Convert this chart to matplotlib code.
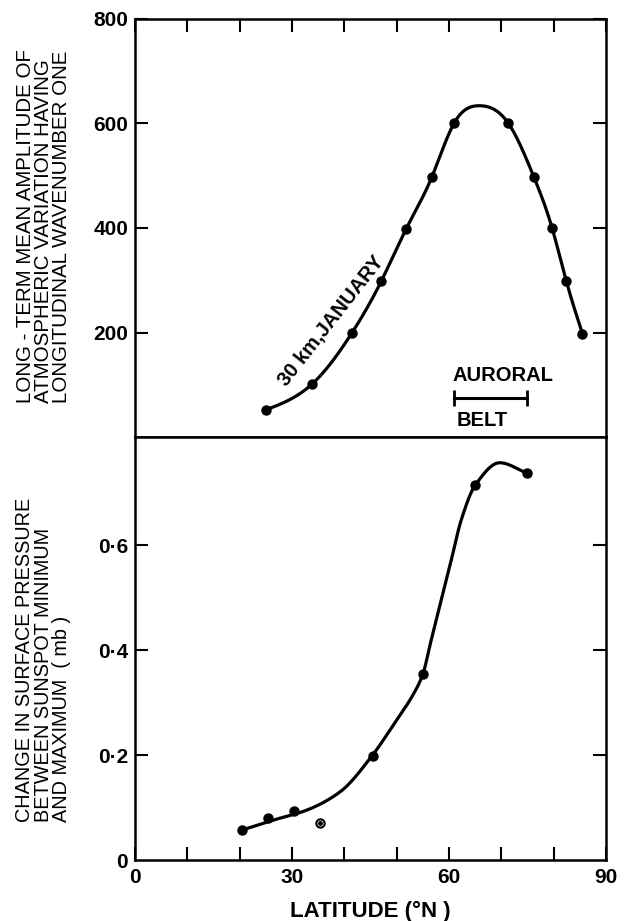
import numpy as np
import matplotlib
matplotlib.use("Agg")
import matplotlib.pyplot as plt
from matplotlib.ticker import FixedLocator

plt.rcParams['font.family'] = ['Liberation Sans', 'DejaVu Sans']

# Upper panel: 30 km January amplitude of wavenumber one
amp_lat = [25.0, 33.8, 41.5, 47.1, 51.8, 56.7, 61.0, 71.3, 76.2, 79.7, 82.4, 85.5]
amp_val = [52, 101, 200, 299, 398, 497, 601, 601, 498, 400, 299, 198]

# Smooth curve knots for the upper panel (points plus the crest)
amp_fit_lat = [25.0, 33.8, 41.5, 47.1, 51.8, 56.7, 61.0, 65.8, 71.3, 76.2, 79.7, 82.4, 85.5]
amp_fit_val = [52, 101, 200, 299, 398, 497, 601, 634, 601, 498, 400, 299, 198]

# Auroral belt extent (deg N)
belt_lat = [61.0, 74.9]
belt_level = 75

# Lower panel: surface pressure change between sunspot min and max
dp_lat = [20.4, 25.4, 30.3, 45.4, 55.0, 64.9, 74.9]
dp_val = [0.057, 0.081, 0.093, 0.199, 0.354, 0.714, 0.737]
dp_odd_lat = [35.4]
dp_odd_val = [0.071]

# Hand-fitted smooth curve through the lower-panel points
fit_lat = [20.4, 26.4, 32.8, 39.2, 45.4, 50.0, 52.9, 55.0, 56.5, 58.0, 60.2, 62.4, 65.0, 69.7, 74.9]
fit_val = [0.057, 0.076, 0.095, 0.130, 0.200, 0.267, 0.311, 0.354, 0.415, 0.475,
           0.562, 0.650, 0.714, 0.757, 0.737]

x_ticks = list(range(0, 91, 10))
x_labels = ['0', '', '', '30', '', '', '60', '', '', '90']
amp_ticks = [200, 400, 600, 800]
amp_labels = ['200', '400', '600', '800']
dp_ticks = [0, 0.2, 0.4, 0.6]
dp_labels = ['0', '0\u00b72', '0\u00b74', '0\u00b76']


def natural_spline(x, y, xs):
    x = np.asarray(x, float)
    y = np.asarray(y, float)
    n = len(x)
    h = np.diff(x)
    A = np.zeros((n, n))
    r = np.zeros(n)
    A[0, 0] = A[-1, -1] = 1.0
    for i in range(1, n - 1):
        A[i, i - 1] = h[i - 1]
        A[i, i] = 2 * (h[i - 1] + h[i])
        A[i, i + 1] = h[i]
        r[i] = 6 * ((y[i + 1] - y[i]) / h[i] - (y[i] - y[i - 1]) / h[i - 1])
    M = np.linalg.solve(A, r)
    idx = np.clip(np.searchsorted(x, xs) - 1, 0, n - 2)
    x0, x1 = x[idx], x[idx + 1]
    y0, y1 = y[idx], y[idx + 1]
    m0, m1 = M[idx], M[idx + 1]
    hh = x1 - x0
    a = (x1 - xs) / hh
    b = (xs - x0) / hh
    return a * y0 + b * y1 + ((a ** 3 - a) * m0 + (b ** 3 - b) * m1) * hh ** 2 / 6


def pchip(x, y, xs):
    x = np.asarray(x, float)
    y = np.asarray(y, float)
    h = np.diff(x)
    d = np.diff(y) / h
    n = len(x)
    m = np.zeros(n)
    for k in range(1, n - 1):
        if d[k - 1] * d[k] > 0:
            w1 = 2 * h[k] + h[k - 1]
            w2 = h[k] + 2 * h[k - 1]
            m[k] = (w1 + w2) / (w1 / d[k - 1] + w2 / d[k])
    m[0] = d[0]
    m[-1] = d[-1]
    idx = np.clip(np.searchsorted(x, xs) - 1, 0, n - 2)
    hh = h[idx]
    t = (xs - x[idx]) / hh
    h00 = 2 * t ** 3 - 3 * t ** 2 + 1
    h10 = t ** 3 - 2 * t ** 2 + t
    h01 = -2 * t ** 3 + 3 * t ** 2
    h11 = t ** 3 - t ** 2
    return h00 * y[idx] + h10 * hh * m[idx] + h01 * y[idx + 1] + h11 * hh * m[idx + 1]


fig = plt.figure(figsize=(6.25, 9.21), dpi=100)
L, W = 0.216, 0.7536
ax1 = fig.add_axes([L, 0.5255, W, 0.4539])
ax2 = fig.add_axes([L, 0.0662, W, 0.4593])

LW = 2.3
for ax in (ax1, ax2):
    for s in ax.spines.values():
        s.set_linewidth(1.8)
    ax.set_xlim(0, 90)
    ax.tick_params(direction='in', length=9.5, width=1.5, labelsize=15, pad=5)

tick_font = dict(family='Liberation Sans', weight='bold', size=15)
narrow = ['Liberation Sans Narrow', 'Liberation Sans']

# ---- upper panel ----
ax1.set_ylim(0, 800)
ax1.xaxis.set_major_locator(FixedLocator(x_ticks))
ax1.tick_params(axis='x', bottom=False, top=True, labelbottom=False)
ax1.yaxis.set_major_locator(FixedLocator(amp_ticks))
ax1.set_yticklabels(amp_labels, **tick_font)
ax1.tick_params(axis='y', left=True, right=True)

xs = np.linspace(amp_fit_lat[0], amp_fit_lat[-1], 400)
ax1.plot(xs, natural_spline(amp_fit_lat, amp_fit_val, xs), color='black', lw=LW,
         solid_capstyle='round')
ax1.plot(amp_lat, amp_val, 'o', color='black', ms=6.5)

ax1.text(37.6, 222, '30 km,JANUARY', rotation=52, rotation_mode='anchor',
         ha='center', va='center', fontsize=14.5, weight='bold', family=narrow)

ax1.plot(belt_lat, [belt_level, belt_level], color='black', lw=2.2)
ax1.plot(belt_lat, [belt_level, belt_level], '|', color='black', ms=11, mew=2)
ax1.text(60.6, 117, 'AURORAL', ha='left', va='center', fontsize=14.5,
         weight='bold', family=narrow)
ax1.text(61.4, 32, 'BELT', ha='left', va='center', fontsize=14.5,
         weight='bold', family=narrow)

fig.text(0.069, 1 - 403 / 921,
         'LONG - TERM MEAN AMPLITUDE OF\nATMOSPHERIC VARIATION HAVING\nLONGITUDINAL WAVENUMBER ONE',
         rotation=90, ha='center', va='bottom', multialignment='left',
         fontsize=14.8, linespacing=0.93, family=narrow)

# ---- lower panel ----
ax2.set_ylim(0, 0.806)
ax2.xaxis.set_major_locator(FixedLocator(x_ticks))
ax2.set_xticklabels(x_labels, **tick_font)
ax2.tick_params(axis='x', bottom=True, top=False, pad=6)
ax2.yaxis.set_major_locator(FixedLocator(dp_ticks))
ax2.set_yticklabels(dp_labels, **tick_font)
ax2.tick_params(axis='y', left=True, right=True)
for t in ax2.yaxis.get_major_ticks()[:1]:
    t.tick1line.set_visible(False)
    t.tick2line.set_visible(False)

xs2 = np.linspace(fit_lat[0], fit_lat[-1], 400)
ax2.plot(xs2, pchip(fit_lat, fit_val, xs2), color='black', lw=LW,
         solid_capstyle='round')
ax2.plot(dp_lat, dp_val, 'o', color='black', ms=6.5)
ax2.plot(dp_odd_lat, dp_odd_val, 'o', mfc='white', mec='black', ms=6, mew=1.5)
ax2.plot(dp_odd_lat, dp_odd_val, 'o', color='black', ms=2.5)

ax2.set_xlabel('LATITUDE (\u00b0N )', fontsize=16, labelpad=10, weight='bold',
               family=narrow)

fig.text(0.069, 1 - 822 / 921,
         'CHANGE IN SURFACE PRESSURE\nBETWEEN SUNSPOT MINIMUM\nAND MAXIMUM  ( mb )',
         rotation=90, ha='center', va='bottom', multialignment='left',
         fontsize=14.3, linespacing=0.97, family=narrow)

fig.savefig('out.png', dpi=100)
